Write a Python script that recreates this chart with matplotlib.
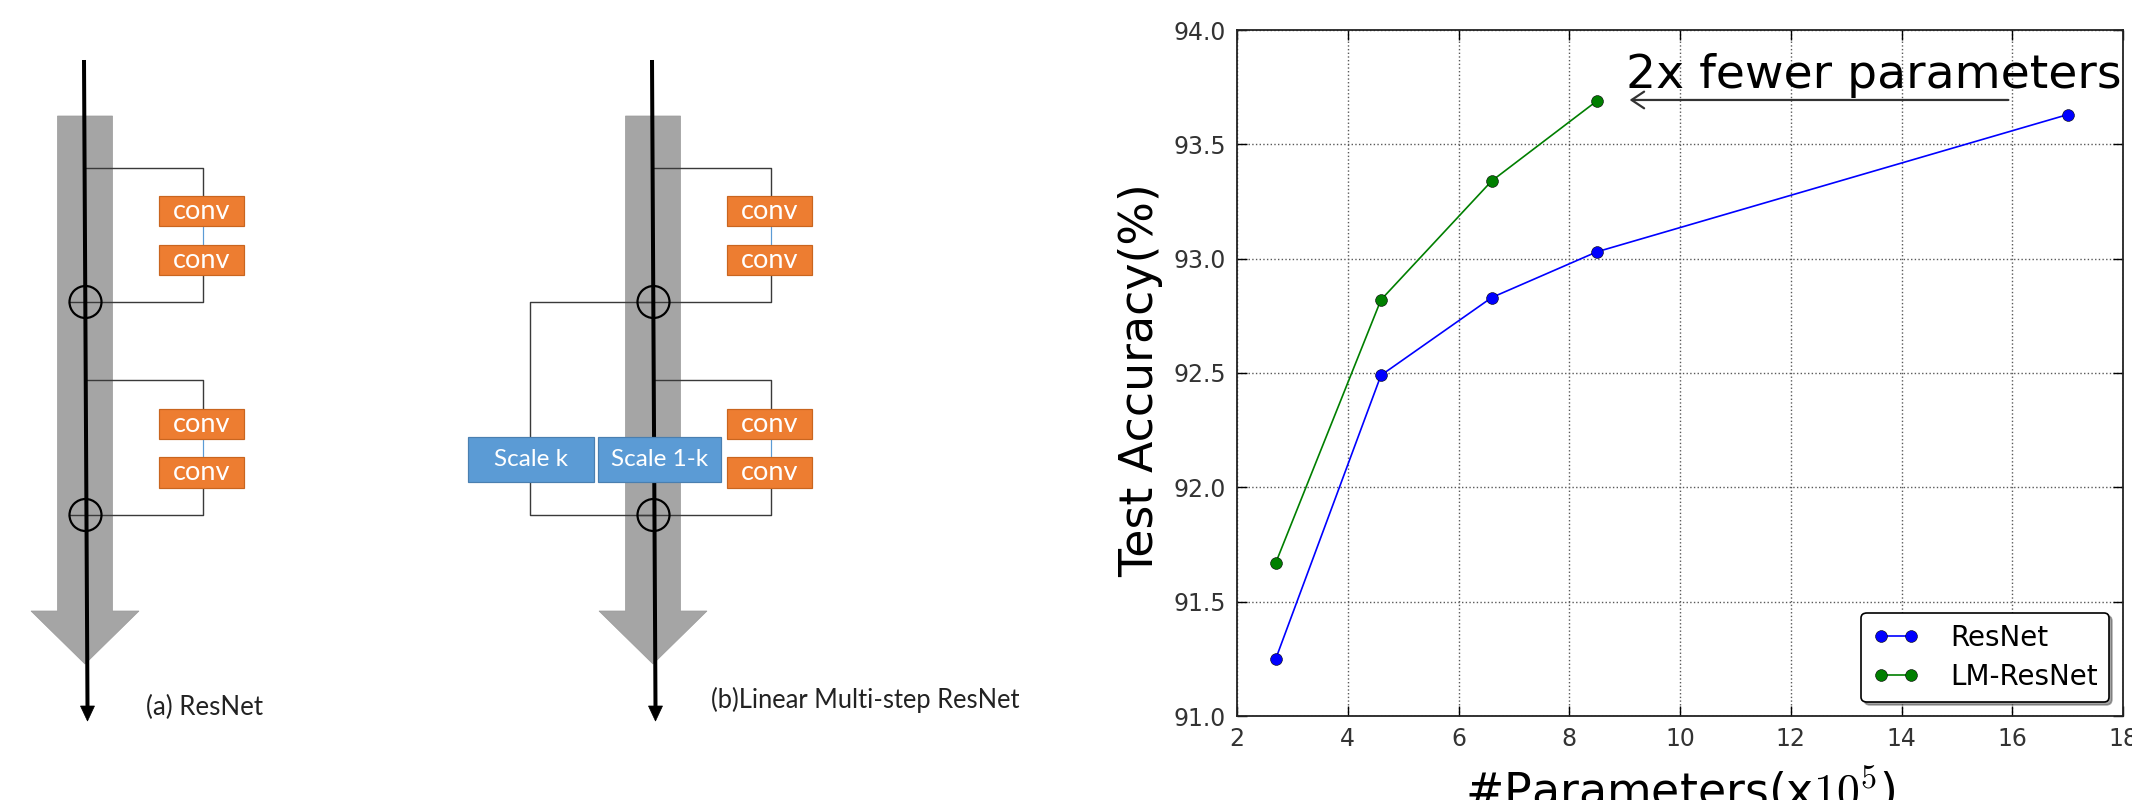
import matplotlib
matplotlib.use('Agg')
import matplotlib.pyplot as plt
from matplotlib.patches import Rectangle, Polygon, Circle

# ---------------- chart data ----------------
params_resnet = [2.7, 4.6, 6.6, 8.5, 17.0]
acc_resnet = [91.25, 92.49, 92.83, 93.03, 93.63]
params_lm = [2.7, 4.6, 6.6, 8.5]
acc_lm = [91.67, 92.82, 93.34, 93.69]
series_labels = ['ResNet', 'LM-ResNet']
series_colors = ['#0000ff', '#007f00']
xticks = [2, 4, 6, 8, 10, 12, 14, 16, 18]
yticks = [91.0, 91.5, 92.0, 92.5, 93.0, 93.5, 94.0]
x_label = '#Parameters(x$10^5$)'
y_label = 'Test Accuracy(%)'
annotation_text = '2x fewer parameters'
annot_arrow_from = (15.93, 93.694)
annot_arrow_to = (9.09, 93.694)
annot_text_pos = (9.03, 93.745)

# ---------------- diagram texts ----------------
conv_text = 'conv'
scale_texts = ['Scale k', 'Scale 1-k']
caption_a = '(a) ResNet'
caption_b = '(b)Linear Multi-step ResNet'

plt.rcParams['font.family'] = ['DejaVu Sans']
plt.rcParams['mathtext.fontset'] = 'cm'

W, H = 2132, 800
fig = plt.figure(figsize=(W / 100, H / 100), dpi=100)
fig.patch.set_facecolor('white')

# ---------- diagram canvas in pixel coordinates ----------
ax0 = fig.add_axes([0, 0, 1, 1])
ax0.set_xlim(0, W)
ax0.set_ylim(H, 0)
ax0.axis('off')

def pt(px):
    return px * 0.72

GRAY = '#a5a5a5'
LINE = '#3a3a3a'
ORANGE = '#ed7d31'
ORANGE_EDGE = '#c9651f'
BLUE = '#5b9bd5'
BLUE_EDGE = '#4a7fb0'
DFONT = ['Lato', 'DejaVu Sans']

blocks = [
    # branch y, box1 top, box1 bottom, box2 top, box2 bottom, join y
    (168, 196, 226, 245, 275, 302),
    (380, 409, 439, 457, 488, 515),
]

def draw_column(cx):
    # big gray arrow
    poly = [(cx - 27.5, 116), (cx + 27.5, 116), (cx + 27.5, 611),
            (cx + 54, 611), (cx, 664), (cx - 54, 611), (cx - 27.5, 611)]
    ax0.add_patch(Polygon(poly, closed=True, fc=GRAY, ec='#9a9a9a', lw=0.5, zorder=1))
    # main black line with arrow
    ax0.plot([cx - 1, cx + 2.5], [60, 708], color='black', lw=pt(4),
             solid_capstyle='butt', zorder=4)
    ax0.add_patch(Polygon([(cx + 2.5 - 7, 706), (cx + 2.5 + 7, 706), (cx + 2.5, 721)],
                          closed=True, fc='black', ec='black', lw=0.5, zorder=4))
    bx = cx + 117.5
    for (yb, t1, b1, t2, b2, yj) in blocks:
        ax0.plot([cx, bx, bx], [yb, yb, t1], color=LINE, lw=pt(1.4), zorder=2)
        ax0.plot([bx, bx], [b1, t2], color=BLUE, lw=pt(1.2), zorder=2)
        ax0.plot([bx, bx, cx - 16], [b2, yj, yj], color=LINE, lw=pt(1.4), zorder=2)
        for (t, b) in [(t1, b1), (t2, b2)]:
            ax0.add_patch(Rectangle((cx + 74, t), 85, b - t, fc=ORANGE, ec=ORANGE_EDGE,
                                    lw=pt(1.2), zorder=3))
            ax0.text(cx + 116.5, (t + b) / 2 + 0.5, conv_text, color='white', fontsize=19.5,
                     family=DFONT, ha='center', va='center', zorder=6)
        ax0.add_patch(Circle((cx + 0.5, yj), 16, fill=False, ec='black', lw=pt(2.2), zorder=5))

draw_column(85)
draw_column(653)

# extra loop of (b)
ax0.plot([653, 530, 530], [302, 302, 437], color=LINE, lw=pt(1.4), zorder=2)
ax0.plot([530, 530, 655], [482, 515, 515], color=LINE, lw=pt(1.4), zorder=2)
for (x0, x1), txt in zip([(467.7, 594), (598, 721)], scale_texts):
    ax0.add_patch(Rectangle((x0, 436.7), x1 - x0, 45, fc=BLUE, ec=BLUE_EDGE,
                            lw=pt(1.2), zorder=6))
    ax0.text((x0 + x1) / 2, 459.5, txt, color='white', fontsize=17.5, family=DFONT,
             ha='center', va='center', zorder=7)

ax0.text(146, 707, caption_a, fontsize=18.6, family=DFONT, ha='left', va='center',
         color='#222222')
ax0.text(711, 700, caption_b, fontsize=18.4, family=DFONT, ha='left', va='center',
         color='#222222')

# ---------- chart ----------
ax = fig.add_axes([1237 / W, (H - 716) / H, 886 / W, 686 / H])
ax.plot(params_resnet, acc_resnet, '-o', color=series_colors[0], mec='black', mew=0.4,
        ms=8.5, lw=1.2, label=series_labels[0], zorder=3)
ax.plot(params_lm, acc_lm, '-o', color=series_colors[1], mec='black', mew=0.4,
        ms=8.5, lw=1.2, label=series_labels[1], zorder=3)
ax.set_xlim(xticks[0], xticks[-1])
ax.set_ylim(yticks[0], yticks[-1])
ax.set_xticks(xticks)
ax.set_yticks(yticks)
ax.set_xticklabels([str(t) for t in xticks])
ax.set_yticklabels(['%.1f' % t for t in yticks])
ax.grid(True, color='0.35', ls=':', lw=1.0)
ax.tick_params(direction='in', top=True, right=True, length=7, width=1,
               labelsize=17, pad=8, colors='black')
ax.tick_params(axis='x', labelcolor='#333333')
ax.tick_params(axis='y', labelcolor='#333333')
for s in ax.spines.values():
    s.set_linewidth(1.3)
    s.set_color('#222222')

ax.set_xlabel(x_label, fontsize=33, labelpad=10)
ax.set_ylabel(y_label, fontsize=33, va='center')
ax.yaxis.set_label_coords(-0.109, 0.49)

leg = ax.legend(loc='lower right', fontsize=20, numpoints=2, shadow=True, fancybox=True,
                framealpha=1, edgecolor='black', handlelength=1.7, handletextpad=1.1,
                labelspacing=0.4, borderaxespad=0.5, borderpad=0.4)
leg.get_frame().set_linewidth(1.2)

ax.annotate('', xy=annot_arrow_to, xytext=annot_arrow_from,
            arrowprops=dict(arrowstyle='->,head_length=0.45,head_width=0.3',
                            color='#333333', lw=1.6, mutation_scale=20,
                            shrinkA=0, shrinkB=0))
ax.text(annot_text_pos[0], annot_text_pos[1], annotation_text, fontsize=34,
        ha='left', va='baseline', clip_on=False, zorder=10, color='black')

fig.savefig('out.png', dpi=100, facecolor='white')
